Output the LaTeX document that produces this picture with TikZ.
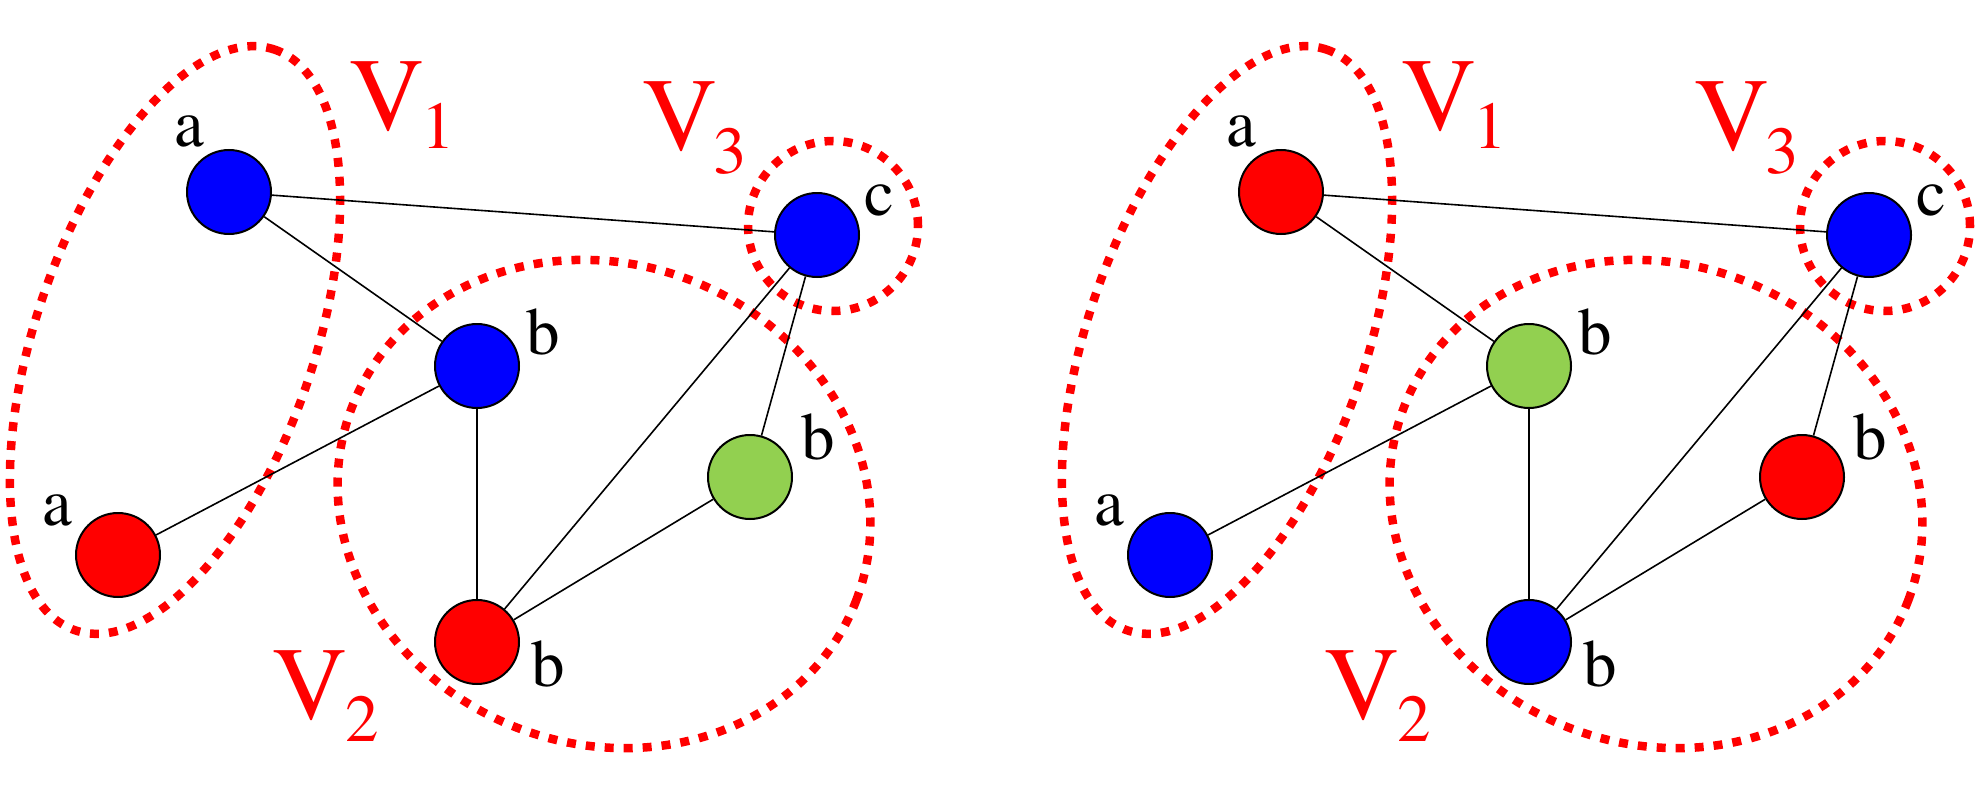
\documentclass[tikz,border=0pt]{standalone}
\usepackage{fontspec}
\setmainfont{texgyretermes-regular.otf}
\definecolor{nblue}{RGB}{0,0,255}
\definecolor{nred}{RGB}{255,0,0}
\definecolor{ngreen}{RGB}{146,208,80}
\tikzset{
  vert/.style={circle, draw=black, line width=2pt, minimum size=84pt, inner sep=0pt},
  edge/.style={line width=1.6pt, black},
  group/.style={draw=red, line width=8.5pt, dash pattern=on 9pt off 10pt},
  lab/.style={anchor=base, inner sep=0pt, font=\fontsize{67pt}{67pt}\selectfont},
  setlab/.style={anchor=base, inner sep=0pt, text=red, font=\fontsize{104pt}{104pt}\selectfont},
  setsub/.style={anchor=base, inner sep=0pt, text=red, font=\fontsize{67pt}{67pt}\selectfont},
}
\newcommand\mypanel[8]{%
\begin{scope}[xshift=#1pt, name prefix=#2-]
  % groups
  \draw[group, rotate around={71:(175,-340)}] (175,-340) ellipse [x radius=307, y radius=139];
  \draw[group, rotate around={-21:(604,-504)}] (604,-504) ellipse [x radius=270, y radius=240];
  \draw[group] (833,-226) circle [radius=85];
  % vertices
  \node[vert, fill=#3] (A1) at (229,-192) {};
  \node[vert, fill=#4] (B1) at (477,-366) {};
  \node[vert, fill=#5] (A2) at (118,-555) {};
  \node[vert, fill=#6] (B2) at (477,-642) {};
  \node[vert, fill=#7] (B3) at (750,-477) {};
  \node[vert, fill=#8] (C)  at (817,-235) {};
  % edges
  \draw[edge] (A1) -- (C);
  \draw[edge] (A1) -- (B1);
  \draw[edge] (B1) -- (A2);
  \draw[edge] (B1) -- (B2);
  \draw[edge] (B2) -- (C);
  \draw[edge] (B2) -- (B3);
  \draw[edge] (B3) -- (C);
  % vertex labels
  \node[lab] (lA1) at (189,-146) {a};
  \node[lab] (lA2) at (57,-525) {a};
  \node[lab] (lB1) at (543,-354) {b};
  \node[lab] (lB2) at (548,-686) {b};
  \node[lab] (lB3) at (818,-459) {b};
  \node[lab] (lC)  at (879,-215) {c};
  % set labels
  \node[setlab] (V1) at (387,-130) {V};
  \node[setsub] (V1s) at (438,-148) {1};
  \node[setlab] (V3) at (680,-150) {V};
  \node[setsub] (V3s) at (730,-173) {3};
  \node[setlab] (V2) at (310,-719) {V};
  \node[setsub] (V2s) at (362,-741) {2};
\end{scope}}
\begin{document}
\begin{tikzpicture}[x=1pt, y=1pt]
  \useasboundingbox (0,0) rectangle (1986,-800);
  \mypanel{0}{L}{nblue}{nblue}{nred}{nred}{ngreen}{nblue}
  \mypanel{1052}{R}{nred}{ngreen}{nblue}{nblue}{nred}{nblue}
\end{tikzpicture}
\end{document}
